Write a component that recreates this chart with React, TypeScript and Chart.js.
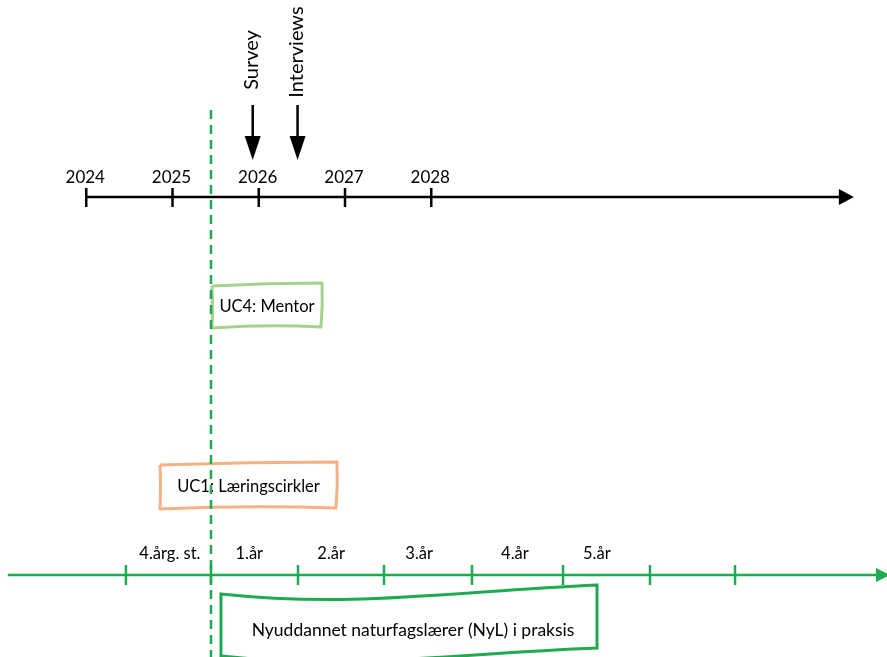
import React, { useEffect, useRef } from "react";
import { Chart, registerables } from "chart.js";

Chart.register(...registerables);

// ---------- data (x values in calendar years) ----------
const yearLabels = ["2024", "2025", "2026", "2027", "2028"];
const yearValues = [2024, 2025, 2026, 2027, 2028];

const eventLabels = ["Survey", "Interviews"];
const eventDates = [2025.93, 2026.45];

const cohortStart = 2025.446; // dashed line

const studyTicks = [2024.46, 2025.446, 2026.455, 2027.452, 2028.472, 2029.528, 2030.536, 2031.522];
const studyLabels = ["4.årg. st.", "1.år", "2.år", "3.år", "4.år", "5.år"];
const studyLabelPos = [2024.97, 2025.89, 2026.84, 2027.86, 2028.97, 2029.92];

const boxLabels = ["UC4: Mentor", "UC1: Læringscirkler", "Nyuddannet naturfagslærer (NyL) i praksis"];
const boxStarts = [2025.458, 2024.855, 2025.562];
const boxEnds = [2026.733, 2026.907, 2029.922];

const X_MIN = 2023;
const X_MAX = 2023 + 887 / 86.25;

const BLACK = "#000000";
const GREEN = "#1faa50";
const LIGHT_GREEN = "#a9d18e";
const ORANGE = "#f4b183";
const FONT = "Lato, 'Open Sans', sans-serif";

function arrowHead(ctx: CanvasRenderingContext2D, tipX: number, tipY: number, dir: "right" | "down", len: number, half: number, color: string) {
  ctx.save();
  ctx.fillStyle = color;
  ctx.beginPath();
  if (dir === "right") {
    ctx.moveTo(tipX, tipY);
    ctx.lineTo(tipX - len, tipY - half);
    ctx.lineTo(tipX - len, tipY + half);
  } else {
    ctx.moveTo(tipX, tipY);
    ctx.lineTo(tipX - half, tipY - len);
    ctx.lineTo(tipX + half, tipY - len);
  }
  ctx.closePath();
  ctx.fill();
  ctx.restore();
}

function sketchRect(ctx: CanvasRenderingContext2D, x0: number, y0: number, x1: number, y1: number, color: string) {
  ctx.save();
  ctx.strokeStyle = color;
  ctx.lineWidth = 3;
  ctx.lineJoin = "round";
  ctx.beginPath();
  ctx.moveTo(x0, y0 + 2);
  ctx.quadraticCurveTo((x0 + x1) / 2, y0 - 1, x1, y0 - 1);
  ctx.quadraticCurveTo(x1 + 1, (y0 + y1) / 2, x1 - 1, y1);
  ctx.quadraticCurveTo((x0 + x1) / 2, y1 - 3, x0, y1 + 1);
  ctx.quadraticCurveTo(x0 + 1, (y0 + y1) / 2, x0, y0 + 2);
  ctx.stroke();
  ctx.restore();
}

const diagramPlugin = {
  id: "timelineDiagram",
  afterDraw(chart: any) {
    const ctx: CanvasRenderingContext2D = chart.ctx;
    const xs = chart.scales.x;
    const ys = chart.scales.y;
    const X = (v: number) => xs.getPixelForValue(v);
    const Y = (v: number) => ys.getPixelForValue(v);

    ctx.save();
    ctx.lineCap = "butt";

    // ---- top calendar axis ----
    const topY = Y(197);
    ctx.strokeStyle = BLACK;
    ctx.lineWidth = 2.5;
    ctx.beginPath();
    ctx.moveTo(X(yearValues[0]), topY);
    ctx.lineTo(X(2032.75), topY);
    ctx.stroke();
    arrowHead(ctx, X(2032.9), topY, "right", 15, 8, BLACK);
    ctx.fillStyle = BLACK;
    ctx.font = `17px ${FONT}`;
    ctx.textAlign = "center";
    ctx.textBaseline = "middle";
    yearValues.forEach((v, i) => {
      const px = X(v);
      ctx.beginPath();
      ctx.moveTo(px, topY - 9);
      ctx.lineTo(px, topY + 10);
      ctx.stroke();
      ctx.fillText(yearLabels[i], px - 1, Y(178));
    });

    // ---- event arrows ----
    ctx.font = `20px ${FONT}`;
    eventDates.forEach((d, i) => {
      const px = X(d);
      ctx.lineWidth = 2.5;
      ctx.beginPath();
      ctx.moveTo(px, Y(105));
      ctx.lineTo(px, Y(140));
      ctx.stroke();
      arrowHead(ctx, px, Y(160), "down", 24, 8, BLACK);
      ctx.save();
      ctx.translate(px - 1, i === 0 ? Y(60) : Y(52));
      ctx.rotate(-Math.PI / 2);
      ctx.textAlign = "center";
      ctx.textBaseline = "middle";
      ctx.fillText(eventLabels[i], 0, 0);
      ctx.restore();
    });

    // ---- bottom study-year axis ----
    const botY = Y(575);
    ctx.strokeStyle = GREEN;
    ctx.lineWidth = 2.5;
    ctx.beginPath();
    ctx.moveTo(X(2023.09), botY);
    ctx.lineTo(X(X_MAX), botY);
    ctx.stroke();
    arrowHead(ctx, X(X_MAX) + 3, botY, "right", 14, 7, GREEN);
    studyTicks.forEach((v) => {
      const px = X(v);
      ctx.beginPath();
      ctx.moveTo(px, botY - 10);
      ctx.lineTo(px, botY + 10);
      ctx.stroke();
    });
    ctx.fillStyle = BLACK;
    ctx.font = `16.5px ${FONT}`;
    ctx.textAlign = "center";
    ctx.textBaseline = "middle";
    studyLabels.forEach((t, i) => {
      ctx.fillText(t, X(studyLabelPos[i]), Y(554));
    });

    // ---- boxes ----
    const colors = [LIGHT_GREEN, ORANGE];
    const rows: [number, number][] = [[284, 327], [463, 508]];
    for (let i = 0; i < 2; i++) {
      const x0 = X(boxStarts[i]);
      const x1 = X(boxEnds[i]);
      sketchRect(ctx, x0, Y(rows[i][0]), x1, Y(rows[i][1]), colors[i]);
      ctx.fillStyle = BLACK;
      ctx.font = `16.5px ${FONT}`;
      ctx.fillText(boxLabels[i], (x0 + x1) / 2, Y((rows[i][0] + rows[i][1]) / 2) + 1);
    }

    // wave box
    {
      const x0 = X(boxStarts[2]);
      const x1 = X(boxEnds[2]);
      const w = x1 - x0;
      ctx.strokeStyle = GREEN;
      ctx.lineWidth = 3;
      ctx.beginPath();
      ctx.moveTo(x0, Y(594));
      ctx.bezierCurveTo(x0 + w * 0.35, Y(608), x0 + w * 0.6, Y(592), x1, Y(585));
      ctx.lineTo(x1, Y(648));
      ctx.bezierCurveTo(x0 + w * 0.6, Y(654), x0 + w * 0.35, Y(670), x0, Y(656));
      ctx.closePath();
      ctx.stroke();
      ctx.fillStyle = BLACK;
      ctx.font = `17.5px ${FONT}`;
      ctx.fillText(boxLabels[2], (x0 + x1) / 2 + 4, Y(630));
    }

    // ---- dashed cohort line ----
    ctx.strokeStyle = GREEN;
    ctx.lineWidth = 2.5;
    ctx.setLineDash([9, 6]);
    ctx.beginPath();
    ctx.moveTo(X(cohortStart), Y(110));
    ctx.lineTo(X(cohortStart), Y(657));
    ctx.stroke();
    ctx.setLineDash([]);

    ctx.restore();
  },
};

export default function App() {
  const canvasRef = useRef<HTMLCanvasElement | null>(null);

  useEffect(() => {
    document.body.style.margin = "0";
    const canvas = canvasRef.current;
    if (!canvas) return;
    const chart = new Chart(canvas, {
      type: "line",
      data: { datasets: [{ data: [], showLine: false, pointRadius: 0 }] },
      options: {
        animation: false,
        responsive: true,
        maintainAspectRatio: false,
        layout: { padding: 0 },
        plugins: { legend: { display: false }, tooltip: { enabled: false } },
        scales: {
          x: { type: "linear", min: X_MIN, max: X_MAX, display: false },
          y: { type: "linear", min: 0, max: 657, reverse: true, display: false },
        },
      },
      plugins: [diagramPlugin],
    });
    return () => chart.destroy();
  }, []);

  return (
    <div style={{ position: "absolute", left: 0, top: 0, width: 887, height: 657, background: "#fff" }}>
      <canvas ref={canvasRef} />
    </div>
  );
}
